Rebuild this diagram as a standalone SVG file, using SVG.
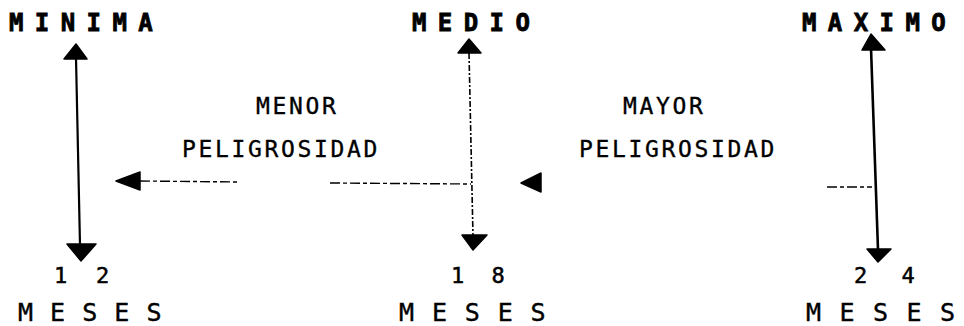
<svg xmlns="http://www.w3.org/2000/svg" width="964" height="326" viewBox="0 0 964 326">
<style>
.title{font-family:"DejaVu Sans Mono","Liberation Mono",monospace;font-weight:bold;font-size:24px;letter-spacing:11.4px;fill:#000;stroke:#000;stroke-width:0.8}
.lbl{font-family:"DejaVu Sans Mono","Liberation Mono",monospace;font-size:23px;letter-spacing:2.65px;fill:#000;stroke:#000;stroke-width:0.35}
.num{font-family:"DejaVu Sans Mono","Liberation Mono",monospace;font-size:22px;fill:#000;stroke:#000;stroke-width:0.5}
.mes{font-family:"DejaVu Sans Mono","Liberation Mono",monospace;font-size:25px;letter-spacing:1px;fill:#000;stroke:#000;stroke-width:0.4}
.head{fill:#000;stroke:#000;stroke-width:1.5;stroke-linejoin:round}
.solid{stroke:#000;stroke-width:2.2;fill:none}
.dot{stroke:#000;stroke-width:1.6;fill:none;stroke-dasharray:6 2 2 2}
.dash{stroke:#000;stroke-width:1.4;fill:none;stroke-dasharray:10 3 4 3}
</style>
<rect width="964" height="326" fill="#fff"/>
<g id="minima">
<text class="title" x="9" y="31">MINIMA</text>
<text class="num" x="54" y="283" style="letter-spacing:7.8px" xml:space="preserve">1 2</text>
<text class="mes" x="18" y="321" xml:space="preserve">M E S E S</text>
</g>
<g id="medio">
<text class="title" x="412" y="31">MEDIO</text>
<text class="num" x="451" y="283" style="letter-spacing:7px" xml:space="preserve">1 8</text>
<text class="mes" x="399" y="321" style="letter-spacing:1.4px" xml:space="preserve">M E S E S</text>
</g>
<g id="maximo">
<text class="title" x="802" y="31">MAXIMO</text>
<text class="num" x="854" y="283" style="letter-spacing:10.5px" xml:space="preserve">2 4</text>
<text class="mes" x="806" y="321" style="letter-spacing:1.7px" xml:space="preserve">M E S E S</text>
</g>
<g id="menor">
<text class="lbl" x="256" y="114">MENOR</text>
<text class="lbl" x="182" y="157">PELIGROSIDAD</text>
</g>
<g id="mayor">
<text class="lbl" x="623" y="114">MAYOR</text>
<text class="lbl" x="579" y="157">PELIGROSIDAD</text>
</g>
<g id="connectors">
<path class="solid" d="M76 58 L80 245"/>
<polygon class="head" points="76,44 64,59 87,59"/>
<polygon class="head" points="67,244 96,244 81,261"/>
<path class="dot" d="M469 53 L473 236"/>
<polygon class="head" points="469,39 458,53 481,53"/>
<polygon class="head" points="462,235 487,235 473,250"/>
<path class="dash" d="M140 181 L240 182 M330 183 L471 184"/>
<polygon class="head" points="116,181 140,172 140,190"/>
<polygon class="head" points="521,183 541,173 541,192"/>
<path class="solid" style="stroke-width:2.6" d="M871 48 L878 250"/>
<polygon class="head" points="871,34 862,50 885,50"/>
<polygon class="head" points="867,249 891,249 878,262"/>
<path class="dash" d="M827 187 L872 187"/>
</g>
</svg>
